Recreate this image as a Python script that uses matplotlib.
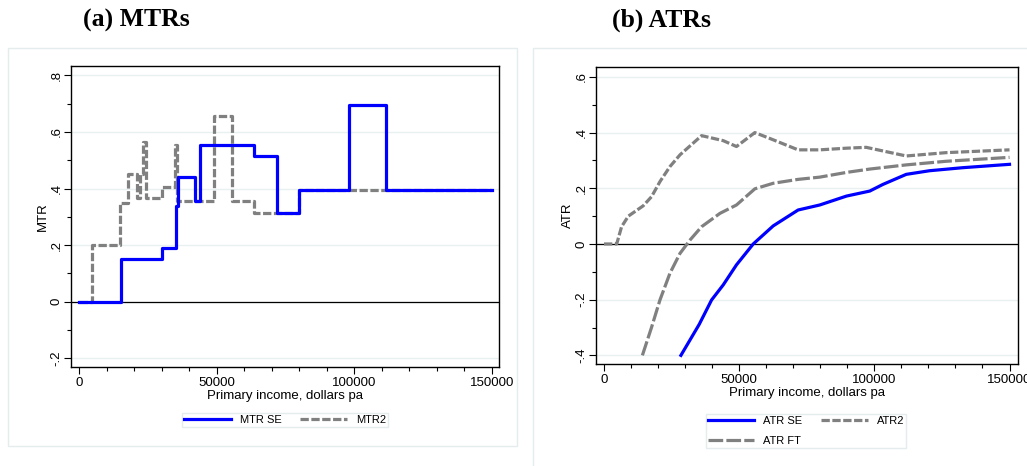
#!/usr/bin/env python3
# -*- coding: utf-8 -*-

"""
Marginal and average tax rates by primary income (two panels).
"""

import matplotlib
matplotlib.use("Agg")
import matplotlib.pyplot as plt
from matplotlib.patches import Rectangle
from matplotlib.ticker import MultipleLocator

# DATA ########################################################################

# (a) MTRs - step functions, value holds from x[i] to x[i+1]
mtr_se_x = [0, 15000, 30000, 35000, 35800, 42000, 44000, 63600, 72000, 80000, 98000, 111500, 150000]
mtr_se_y = [0, 0.15, 0.19, 0.34, 0.44, 0.355, 0.555, 0.515, 0.315, 0.395, 0.695, 0.395, 0.395]

mtr2_x = [0, 4700, 14900, 17800, 21000, 22000, 23000, 24300, 30000, 34800, 35600,
          49100, 55600, 63600, 80000, 150000]
mtr2_y = [0, 0.2, 0.35, 0.45, 0.365, 0.45, 0.565, 0.365, 0.405, 0.555, 0.355,
          0.655, 0.355, 0.315, 0.395, 0.395]

# (b) ATRs
atr_se_x = [28450, 35200, 39800, 44100, 49000, 55200, 62600, 71800, 79800, 89700,
            98300, 103200, 111800, 120400, 132800, 150000]
atr_se_y = [-0.4, -0.289, -0.201, -0.147, -0.075, 0.0, 0.065, 0.122, 0.140, 0.172,
            0.190, 0.214, 0.250, 0.263, 0.274, 0.286]

atr_ft_x = [14200, 17600, 20700, 24400, 28100, 31800, 36100, 42900, 49000, 55800,
            62600, 71800, 79800, 89700, 98300, 111800, 126600, 150000]
atr_ft_y = [-0.4, -0.299, -0.201, -0.105, -0.034, 0.014, 0.062, 0.110, 0.140, 0.198,
            0.218, 0.232, 0.240, 0.257, 0.269, 0.284, 0.297, 0.311]

atr2_x = [0, 4700, 6500, 9000, 14500, 17600, 20700, 24400, 28100, 36100, 44100,
          49000, 55800, 62600, 71800, 79800, 89700, 97000, 103200, 111800, 126600, 150000]
atr2_y = [0, 0, 0.062, 0.100, 0.137, 0.170, 0.224, 0.278, 0.320, 0.389, 0.371,
          0.350, 0.400, 0.374, 0.338, 0.338, 0.344, 0.347, 0.334, 0.316, 0.328, 0.338]

mtr_ticks = [-0.2, 0, 0.2, 0.4, 0.6, 0.8]
mtr_labels = ["-.2", "0", ".2", ".4", ".6", ".8"]
atr_ticks = [-0.4, -0.2, 0, 0.2, 0.4, 0.6]
atr_labels = ["-.4", "-.2", "0", ".2", ".4", ".6"]
x_ticks = [0, 50000, 100000, 150000]

# STYLE #######################################################################

W, H = 1027, 466
BLUE = "#0000ff"
GRAY = "#808080"
GRID = "#e8f0f1"
PANEL = "#e4ecee"
LW = 2.3
plt.rcParams["font.family"] = ["Liberation Sans", "DejaVu Sans"]


def px_axes(fig, x0, y0, x1, y1):
    return fig.add_axes([x0 / W, 1 - y1 / H, (x1 - x0) / W, (y1 - y0) / H])


def style_axes(ax, yticks, ylabels, ylabel):
    ax.set_yticks(yticks)
    ax.set_yticklabels(ylabels, rotation=90, va="center")
    ax.yaxis.set_minor_locator(MultipleLocator(0.1))
    ax.set_xticks(x_ticks)
    ax.set_xticklabels([str(t) for t in x_ticks])
    ax.xaxis.set_minor_locator(MultipleLocator(10000))
    ax.tick_params(which="major", length=5, width=0.8, labelsize=9.5, pad=2)
    ax.tick_params(axis="y", which="major", pad=1)
    ax.tick_params(which="minor", length=3, width=0.8)
    ax.grid(True, axis="y", which="major", color=GRID, lw=1.0)
    ax.set_axisbelow(True)
    for s in ax.spines.values():
        s.set_linewidth(1.0)
    ax.axhline(0, color="black", lw=0.9, zorder=2)
    ax.set_xlabel("Primary income, dollars pa", fontsize=9.5, labelpad=1)
    ax.set_ylabel(ylabel, fontsize=9.5, labelpad=1)


def add_legend(fig, handles, labels, cx, cy):
    fig.legend(handles, labels, ncol=2, loc="center",
               bbox_to_anchor=(cx / W, 1 - cy / H), fontsize=8,
               frameon=True, fancybox=False, edgecolor=PANEL, framealpha=1,
               handlelength=4.2, columnspacing=1.7, borderpad=0.15,
               borderaxespad=0, handletextpad=0.8, labelspacing=0.9)


fig = plt.figure(figsize=(W / 100, H / 100), dpi=100)

# panel outlines
fig.patches.append(Rectangle((8 / W, 1 - 446 / H), 509 / W, 398 / H,
                             transform=fig.transFigure, fill=False,
                             edgecolor=PANEL, lw=1.0))
fig.patches.append(Rectangle((533 / W, 1 - 470 / H), 500 / W, 422 / H,
                             transform=fig.transFigure, fill=False,
                             edgecolor=PANEL, lw=1.0))

# (a) MTRs ####################################################################

ax1 = px_axes(fig, 71, 66, 499, 367)
ax1.step(mtr2_x, mtr2_y, where="post", color=GRAY, lw=LW,
         dashes=(2.6, 0.8), label="MTR2", zorder=3)
ax1.step(mtr_se_x, mtr_se_y, where="post", color=BLUE, lw=LW,
         label="MTR SE", zorder=3)
ax1.set_xlim(-3020, 152660)
ax1.set_ylim(-0.2307, 0.833)
style_axes(ax1, mtr_ticks, mtr_labels, "MTR")
h, l = ax1.get_legend_handles_labels()
add_legend(fig, [h[1], h[0]], [l[1], l[0]], 285, 420)

# (b) ATRs ####################################################################

ax2 = px_axes(fig, 596, 67, 1018, 364)
ax2.plot(atr2_x, atr2_y, color=GRAY, lw=LW, dashes=(2.6, 0.8),
         label="ATR2", zorder=3)
ax2.plot(atr_ft_x, atr_ft_y, color=GRAY, lw=LW, dashes=(4.6, 1.0),
         label="ATR FT", zorder=3)
ax2.plot(atr_se_x, atr_se_y, color=BLUE, lw=LW, label="ATR SE", zorder=3)
ax2.set_xlim(-2960, 153140)
ax2.set_ylim(-0.431, 0.6355)
style_axes(ax2, atr_ticks, atr_labels, "ATR")
h, l = ax2.get_legend_handles_labels()
add_legend(fig, [h[2], h[1], h[0]], [l[2], l[1], l[0]], 806, 431)

# titles
fig.text(83 / W, 1 - 27 / H, "(a) MTRs", fontsize=18.5, fontweight="bold",
         family=["Liberation Serif", "DejaVu Serif"], va="baseline")
fig.text(612 / W, 1 - 27 / H, "(b) ATRs", fontsize=18.5, fontweight="bold",
         family=["Liberation Serif", "DejaVu Serif"], va="baseline")

plt.savefig("out.png", dpi=100)
